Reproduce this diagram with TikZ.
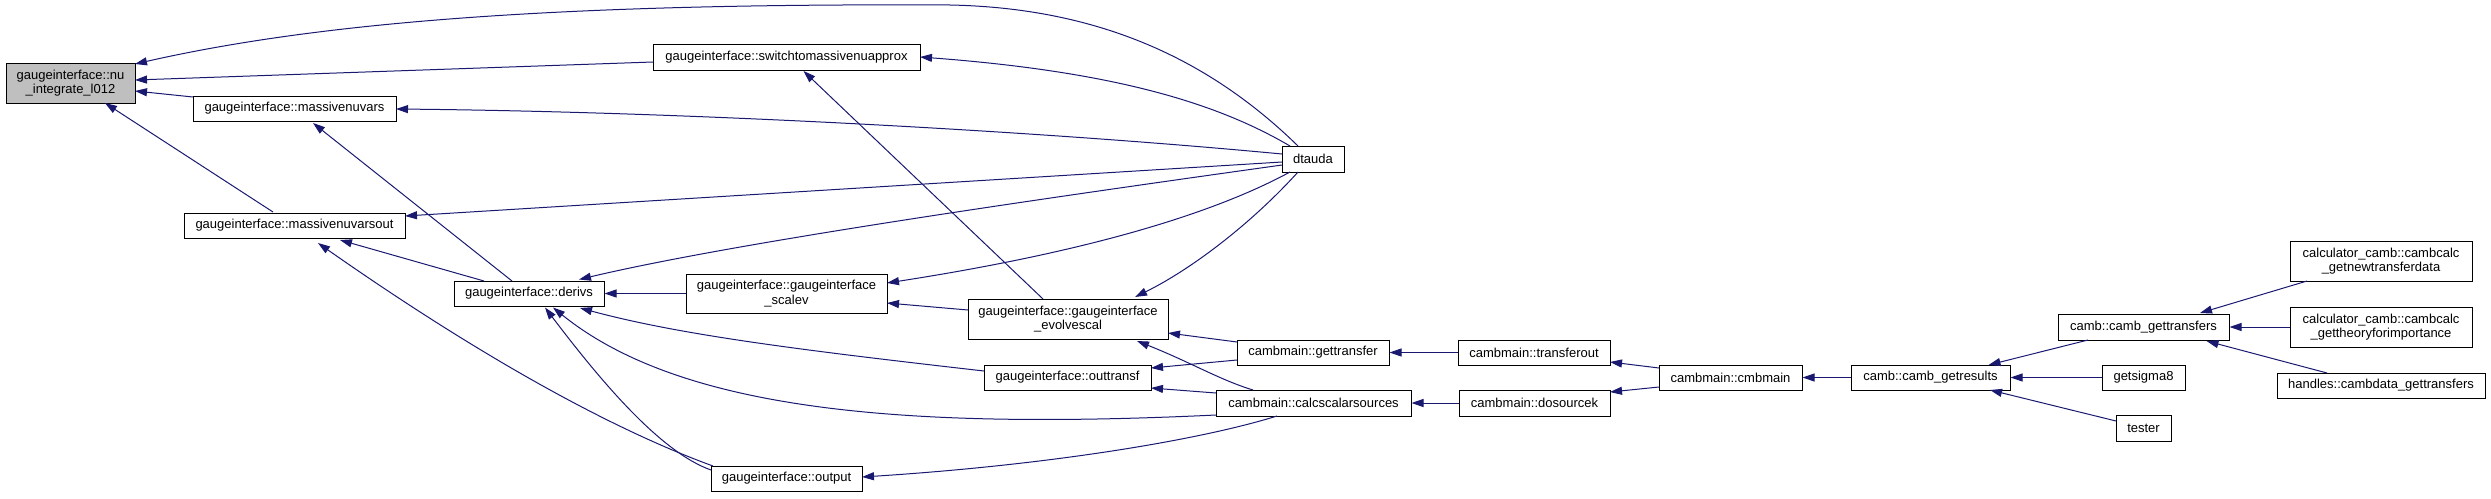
\documentclass[tikz,border=0pt]{standalone}
\usepackage{fontspec}
\setmainfont{Liberation Sans}
\usetikzlibrary{arrows.meta,calc}
\definecolor{edgecol}{HTML}{191970}
\definecolor{rootfill}{HTML}{BFBFBF}
\begin{document}
\begin{tikzpicture}[x=1pt,y=-1pt,
  box/.style={draw=black, line width=1pt, inner sep=0pt, align=center, fill=white,
    font={\fontsize{13}{14.5}\selectfont}},
  conn/.style={draw=edgecol, line width=1pt, -{Triangle[length=12pt,width=8pt]}}]
\useasboundingbox (0,0) rectangle (2491,498);
% nodes
\node[box, fill=rootfill, minimum width=129pt, minimum height=40pt] (nu) at (70.5,83) {gaugeinterface::nu\\\_integrate\_l012};
\node[box, minimum width=203pt, minimum height=25pt] (mnv) at (294.5,108.5) {gaugeinterface::massivenuvars};
\node[box, minimum width=221pt, minimum height=25pt] (mnvo) at (294.5,225.5) {gaugeinterface::massivenuvarsout};
\node[box, minimum width=267pt, minimum height=26pt] (sw) at (786.5,57) {gaugeinterface::switchtomassivenuapprox};
\node[box, minimum width=150pt, minimum height=25pt] (der) at (529,293.5) {gaugeinterface::derivs};
\node[box, minimum width=201pt, minimum height=39pt] (scv) at (786.5,293.5) {gaugeinterface::gaugeinterface\\\_scalev};
\node[box, minimum width=151pt, minimum height=25pt] (outp) at (786.5,478.5) {gaugeinterface::output};
\node[box, minimum width=62pt, minimum height=26pt] (dta) at (1313,159) {dtauda};
\node[box, minimum width=200pt, minimum height=40pt] (evs) at (1068,319) {gaugeinterface::gaugeinterface\\\_evolvescal};
\node[box, minimum width=167pt, minimum height=25pt] (otr) at (1067.5,377.5) {gaugeinterface::outtransf};
\node[box, minimum width=152pt, minimum height=25pt] (gtr) at (1313,352.5) {cambmain::gettransfer};
\node[box, minimum width=195pt, minimum height=26pt] (css) at (1313.5,403) {cambmain::calcscalarsources};
\node[box, minimum width=152pt, minimum height=25pt] (tro) at (1534,352.5) {cambmain::transferout};
\node[box, minimum width=151pt, minimum height=26pt] (dsk) at (1534.5,403) {cambmain::dosourcek};
\node[box, minimum width=143pt, minimum height=25pt] (cmb) at (1730.5,377.5) {cambmain::cmbmain};
\node[box, minimum width=159pt, minimum height=25pt] (gres) at (1930.5,377.5) {camb::camb\_getresults};
\node[box, minimum width=171pt, minimum height=26pt] (gtrs) at (2143.5,327) {camb::camb\_gettransfers};
\node[box, minimum width=83pt, minimum height=25pt] (gs8) at (2143.5,377.5) {getsigma8};
\node[box, minimum width=55pt, minimum height=26pt] (tst) at (2143.5,428) {tester};
\node[box, minimum width=182pt, minimum height=40pt] (cc1) at (2381,261) {calculator\_camb::cambcalc\\\_getnewtransferdata};
\node[box, minimum width=182pt, minimum height=40pt] (cc2) at (2381,327) {calculator\_camb::cambcalc\\\_gettheoryforimportance};
\node[box, minimum width=208pt, minimum height=25pt] (hnd) at (2381,385.5) {handles::cambdata\_gettransfers};
% connectors
\draw[conn] ($(dta)+(-15,-13)$) .. controls (1210,60) and (1100,8) .. (950,5) .. controls (560,3) and (320,22) .. ($(nu)+(64.5,-19)$);
\draw[conn] ($(sw)+(-133.5,5)$) -- ($(nu)+(64.5,-3)$);
\draw[conn] ($(mnv)+(-101.5,-11.5)$) -- ($(nu)+(64.5,8)$);
\draw[conn] ($(mnvo)+(-21.5,-13.5)$) -- ($(nu)+(34.5,20)$);
\draw[conn] ($(dta)+(-23,-13)$) .. controls (1220,105) and (1120,72) .. ($(sw)+(133.5,0)$);
\draw[conn] ($(evs)+(-25,-20)$) -- ($(sw)+(17,14)$);
\draw[conn] ($(dta)+(-31,-5)$) .. controls (1050,132) and (700,112) .. ($(mnv)+(101.5,0.5)$);
\draw[conn] ($(der)+(-17,-12.5)$) -- ($(mnv)+(18.5,14.5)$);
\draw[conn] ($(dta)+(-31,3)$) -- ($(mnvo)+(110.5,-9.5)$);
\draw[conn] ($(der)+(-45,-12.5)$) -- ($(mnvo)+(45.5,14.5)$);
\draw[conn] ($(outp)+(-73.5,-12.5)$) .. controls (603,426) and (468,348) .. ($(mnvo)+(23.5,17.5)$);
\draw[conn] ($(dta)+(-31,6)$) .. controls (1032,200) and (733,243) .. ($(der)+(50,-14)$);
\draw[conn] (scv.west) -- (der.east);
\draw[conn] ($(otr)+(-83.5,-6.5)$) .. controls (800,350) and (680,335) .. ($(der)+(51,14.5)$);
\draw[conn] ($(css)+(-97.5,12)$) .. controls (900,430) and (680,410) .. ($(der)+(24,14)$);
\draw[conn] ($(outp)+(-75.5,-8.5)$) .. controls (660,452) and (600,380) .. ($(der)+(16,14)$);
\draw[conn] ($(dta)+(-23,13)$) .. controls (1220,210) and (1100,250) .. ($(scv)+(100.5,-10.5)$);
\draw[conn] ($(evs)+(-100,-9)$) -- ($(scv)+(100.5,9.5)$);
\draw[conn] ($(dta)+(-15,13)$) .. controls (1250,225) and (1190,270) .. ($(evs)+(67,-22)$);
\draw[conn] ($(gtr)+(-76,-10.5)$) -- ($(evs)+(100,14)$);
\draw[conn] ($(css)+(-60.5,-13)$) .. controls (1220,380) and (1190,362) .. ($(evs)+(69,22)$);
\draw[conn] ($(gtr)+(-76,7.5)$) -- ($(otr)+(83.5,-9.5)$);
\draw[conn] ($(css)+(-97.5,-10)$) -- ($(otr)+(83.5,10.5)$);
\draw[conn] ($(css)+(-36.5,13)$) .. controls (1200,440) and (1050,465) .. ($(outp)+(75.5,-1.5)$);
\draw[conn] (tro.west) -- (gtr.east);
\draw[conn] (dsk.west) -- (css.east);
\draw[conn] ($(cmb)+(-71.5,-9.5)$) -- ($(tro)+(76,9.5)$);
\draw[conn] ($(cmb)+(-71.5,9.5)$) -- ($(dsk)+(75.5,-11)$);
\draw[conn] (gres.west) -- (cmb.east);
\draw[conn] ($(gtrs)+(-55.5,13)$) -- ($(gres)+(58,-12.5)$);
\draw[conn] (gs8.west) -- (gres.east);
\draw[conn] ($(tst)+(-27.5,-7)$) -- ($(gres)+(59.5,12.5)$);
\draw[conn] ($(cc1)+(-74,20)$) -- ($(gtrs)+(56.5,-14)$);
\draw[conn] (cc2.west) -- (gtrs.east);
\draw[conn] ($(hnd)+(-54,-12.5)$) -- ($(gtrs)+(63,14)$);
\end{tikzpicture}
\end{document}
